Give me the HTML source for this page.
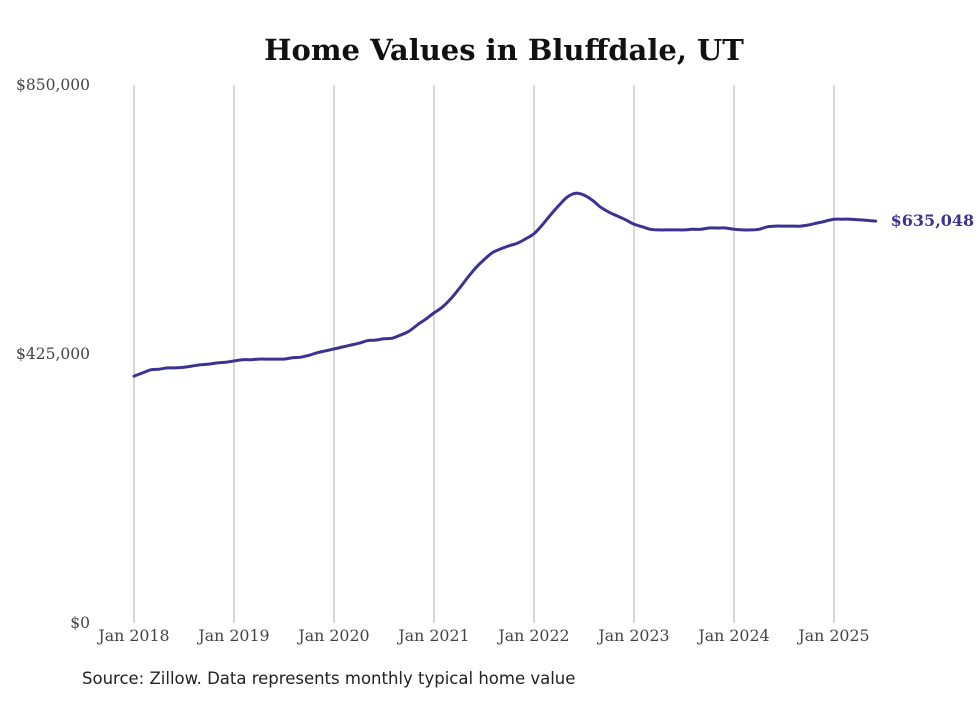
<!DOCTYPE html>
<html><head><meta charset="utf-8"><style>
body{margin:0;background:#fff;width:980px;height:699px;overflow:hidden}
text{font-family:"DejaVu Serif","Liberation Serif",serif}
</style></head><body>
<svg id="chart" width="980" height="699" xmlns="http://www.w3.org/2000/svg">
<text x="504" y="60" text-anchor="middle" font-size="29" font-weight="bold" fill="#111">Home Values in Bluffdale, UT</text>
<g id="grid"></g><g id="axes"></g><g id="series"></g>
<text x="82" y="684" font-size="16.5" fill="#222" style="font-family:'DejaVu Sans',sans-serif">Source: Zillow. Data represents monthly typical home value</text>
</svg>
<script>
const yTicks=[0,425000,850000];
const yTickLabels=["$0","$425,000","$850,000"];
const xYears=["Jan 2018","Jan 2019","Jan 2020","Jan 2021","Jan 2022","Jan 2023","Jan 2024","Jan 2025"];
const values=[390000,395000,400000,401000,403000,403000,404000,406000,408000,409000,411000,412000,
414000,416000,416000,417000,417000,417000,417000,419000,420000,423000,427000,430000,
433000,436000,439000,442000,446000,447000,449000,450000,455000,461000,471000,480000,
490000,499000,512000,528000,545000,561000,574000,585000,591000,596000,600000,607000,
615000,629000,645000,660000,673000,679000,676000,668000,657000,649000,643000,637000,
630000,626000,622000,621000,621000,621000,621000,622000,622000,624000,624000,624000,
622000,621000,621000,622000,626000,627000,627000,627000,627000,629000,632000,635000,
638000,638000,638000,637000,636000,635048];
const lastLabel="$635,048";
const NS="http://www.w3.org/2000/svg";
const x=m=>134+m*100/12;
const y=v=>623-v/850000*538;
function mk(t,a,p){const e=document.createElementNS(NS,t);for(const k in a)e.setAttribute(k,a[k]);p.appendChild(e);return e;}
const grid=document.getElementById('grid'),axes=document.getElementById('axes'),ser=document.getElementById('series');
xYears.forEach((lab,i)=>{
 const l=mk('line',{x1:x(i*12),x2:x(i*12),y1:85,y2:623,stroke:'#b0b0b0','stroke-width':1},grid);
 
 
 const t=mk('text',{x:x(i*12),y:641,'text-anchor':'middle','font-size':15.8,fill:'#444'},axes);
 t.textContent=lab;
 
 
});
yTicks.forEach((v,i)=>{
 const t=mk('text',{x:90,y:y(v)+5,'text-anchor':'end','font-size':15.5,fill:'#444'},axes);
 t.textContent=yTickLabels[i];
 
 
});
const pts=values.map((v,i)=>[x(i),y(v)]);
let d='M'+pts[0][0].toFixed(1)+','+pts[0][1].toFixed(1);
for(let i=0;i<pts.length-1;i++){
 const p0=pts[Math.max(i-1,0)],p1=pts[i],p2=pts[i+1],p3=pts[Math.min(i+2,pts.length-1)];
 const c1=[p1[0]+(p2[0]-p0[0])/6,p1[1]+(p2[1]-p0[1])/6],c2=[p2[0]-(p3[0]-p1[0])/6,p2[1]-(p3[1]-p1[1])/6];
 d+='C'+c1.map(n=>n.toFixed(1)).join(',')+' '+c2.map(n=>n.toFixed(1)).join(',')+' '+p2.map(n=>n.toFixed(1)).join(',');
}
const p=mk('path',{d:d,fill:'none',stroke:'#3b3393','stroke-width':3,'stroke-linejoin':'round','stroke-linecap':'round'},ser);


const n=values.length-1;
const lt=mk('text',{x:x(n)+15,y:y(values[n])+5,'font-size':16,'font-weight':'bold',fill:'#3b3393'},ser);
lt.textContent=lastLabel;


</script>
</body></html>
